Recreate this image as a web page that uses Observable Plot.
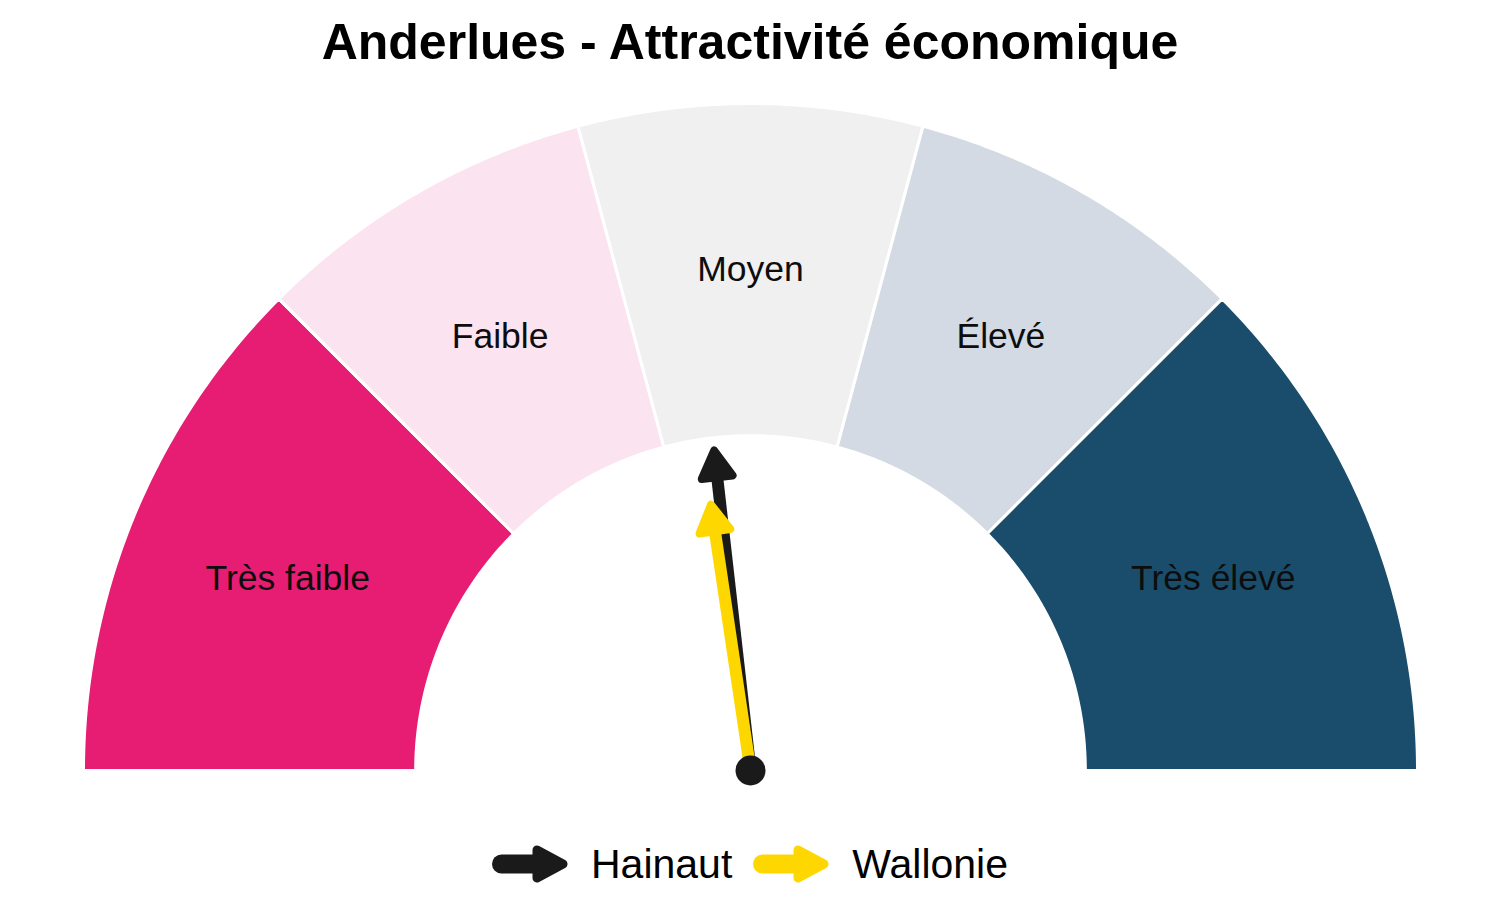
<!DOCTYPE html>
<html><head><meta charset="utf-8">
<script src="https://cdn.jsdelivr.net/npm/d3@7"></script>
<script src="https://cdn.jsdelivr.net/npm/@observablehq/plot@0.6"></script>
<style>
body{margin:0;background:#fff;font-family:"Liberation Sans",Arial,sans-serif;}
#wrap{position:relative;width:1500px;height:900px;overflow:hidden;background:#fff}
#chart{position:absolute;top:0;left:0}
#title{position:absolute;top:17px;left:0;width:1500px;text-align:center;font-weight:bold;font-size:50px;line-height:50px;color:#000}
#legend{position:absolute;top:843px;left:0;width:1500px;height:42px;display:flex;justify-content:center;align-items:center;font-size:41px;line-height:42px;color:#000}
#legend svg{display:block}
</style></head>
<body><div id="wrap"><div id="chart"></div><div id="title">Anderlues - Attractivité économique</div><div id="legend"></div></div>
<script>
// ---- data ----
const categories = ["Très faible", "Faible", "Moyen", "Élevé", "Très élevé"];
const breaks = [0, 25, 41.67, 58.33, 75, 100];          // gauge scale 0–100
const segmentColors = ["#E61D73", "#FBE3EF", "#F0F0F0", "#D3DAE3", "#194D6B"];
const regions = ["Hainaut", "Wallonie"];
const regionValues = [46.4, 45.3];
const needleLengths = [0.49, 0.41];                      // share of outer radius
const regionColors = ["#1A1A1A", "#FFD700"];
const innerRadius = 0.502, outerRadius = 1;

// ---- geometry helpers ----
const angle = v => Math.PI * (1 - v / 100);
const polar = (v, r) => ({x: r * Math.cos(angle(v)), y: r * Math.sin(angle(v))});

const segPoints = categories.flatMap((c, i) => {
  const a = breaks[i], b = breaks[i + 1], n = 80, pts = [];
  for (let k = 0; k <= n; k++) pts.push({cat: c, ...polar(a + (b - a) * k / n, outerRadius)});
  for (let k = n; k >= 0; k--) pts.push({cat: c, ...polar(a + (b - a) * k / n, innerRadius)});
  pts.push({...pts[0]});
  return pts;
});
const labels = categories.map((c, i) => ({cat: c, ...polar((breaks[i] + breaks[i + 1]) / 2, (innerRadius + outerRadius) / 2)}));
const needles = regions.map((r, i) => {
  const v = regionValues[i], L = needleLengths[i];
  const head = polar(v, L - 0.034), shaft = polar(v, L - 0.045);
  return {region: r, color: regionColors[i], x0: 0, y0: 0, sx: shaft.x, sy: shaft.y, hx: head.x, hy: head.y,
          rot: 90 - angle(v) * 180 / Math.PI};
});

const marks = [
  Plot.line(segPoints, {x: "x", y: "y", z: "cat", fill: "cat", stroke: "white", strokeWidth: 3, curve: "linear", strokeLinejoin: "miter"}),
  Plot.text(labels, {x: "x", y: "y", text: "cat", fontSize: 35.5, fill: "#0d0d0d", fontFamily: "Liberation Sans, Arial, sans-serif"})
];
for (const n of needles) {
  marks.push(Plot.link([n], {x1: "x0", y1: "y0", x2: "sx", y2: "sy", stroke: n.color, strokeWidth: 12}));
  marks.push(Plot.dot([n], {x: "hx", y: "hy", symbol: "triangle", r: 11.5, rotate: "rot", fill: n.color, stroke: n.color, strokeWidth: 8, strokeLinejoin: "round"}));
}
marks.push(Plot.dot([{x: 0, y: 0}], {x: "x", y: "y", r: 15, fill: "#1A1A1A", stroke: "none"}));

const chart = Plot.plot({
  width: 1500, height: 900,
  marginLeft: 83, marginRight: 83, marginTop: 103, marginBottom: 130,
  x: {domain: [-1, 1], axis: null},
  y: {domain: [0, 1], axis: null},
  color: {domain: categories, range: segmentColors},
  style: {background: "transparent"},
  marks
});
document.getElementById("chart").appendChild(chart);

// ---- legend ----
const legend = document.getElementById("legend");
regions.forEach((r, i) => {
  const c = regionColors[i];
  const icon = `<svg width="76" height="40" viewBox="0 0 76 40" style="margin-left:${i ? 21 : 0}px;margin-right:23px">
    <line x1="9.5" y1="20" x2="50" y2="20" stroke="${c}" stroke-width="19" stroke-linecap="round"/>
    <path d="M45,6 L71,20 L45,34 Z" fill="${c}" stroke="${c}" stroke-width="9" stroke-linejoin="round"/></svg>`;
  legend.insertAdjacentHTML("beforeend", icon + `<span>${r}</span>`);
});
</script>
</body></html>
